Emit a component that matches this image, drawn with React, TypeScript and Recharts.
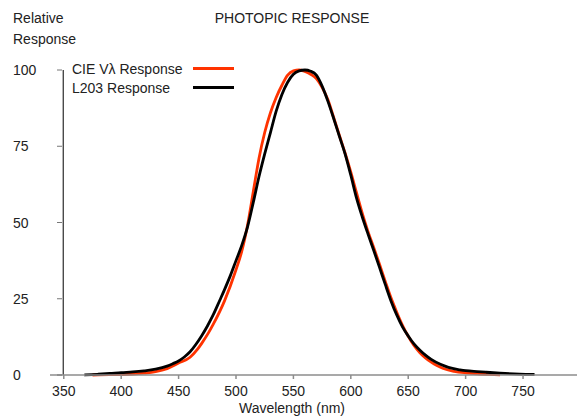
import { Legend, Line, LineChart, ReferenceLine, XAxis, YAxis } from "recharts";

// CIE V-lambda curve
const cieWavelengths = [
  375, 380, 390, 400, 410, 420, 430, 440, 450, 460, 466, 470, 476, 480, 490,
  500, 505, 510, 515, 520, 525, 530, 535, 540, 545, 550, 555, 560, 565, 570,
  575, 580, 585, 590, 595, 600, 605, 610, 615, 620, 625, 630, 635, 640, 645,
  650, 655, 660, 665, 670, 675, 680, 690, 700, 710, 720, 730,
];
const cieValues = [
  0, 0.05, 0.1, 0.15, 0.3, 0.6, 1.1, 2.1, 3.9, 5.8, 8.2, 10.3, 13.8, 16.5, 24.3,
  34.5, 40.5, 49, 60, 71, 79.5, 86, 91, 95, 98.3, 99.7, 100, 99.5, 98.6, 97.2,
  94.3, 90.3, 84.5, 78.6, 72.8, 66.5, 59.7, 53, 47, 41.7, 36.3, 30.7, 25.3,
  20.6, 16.3, 12.7, 9.7, 7.4, 5.6, 4.2, 3.1, 2.2, 1.2, 0.7, 0.4, 0.2, 0.05,
];

// L203 measured response
const l203Wavelengths = [
  368, 375, 380, 390, 400, 410, 420, 430, 440, 445, 450, 455, 460, 465, 470,
  475, 480, 486, 490, 495, 500, 505, 510, 515, 520, 525, 530, 535, 540, 545,
  550, 555, 560, 565, 570, 575, 580, 585, 590, 595, 600, 605, 610, 615, 620,
  625, 630, 635, 640, 645, 650, 655, 660, 665, 670, 678, 685, 695, 700, 710,
  718, 730, 747, 760,
];
const l203Values = [
  0, 0.15, 0.25, 0.5, 0.8, 1.0, 1.35, 1.9, 2.9, 3.7, 4.6, 5.9, 7.6, 10.0, 12.8,
  16.0, 19.6, 24.6, 28, 32.5, 37.5, 42.5, 48.5, 56.5, 65, 72.5, 79.5, 86.5, 92,
  96, 98.6, 99.7, 100, 99.6, 98.3, 94.7, 89.8, 84.2, 78.3, 72.5, 65.5, 58, 51.8,
  46.2, 40.8, 35.3, 29.7, 24.3, 19.7, 15.8, 12.8, 10.2, 8.2, 6.5, 5.1, 3.5, 2.5,
  1.7, 1.4, 1.1, 0.9, 0.6, 0.3, 0.2,
];

const xTicks = [350, 400, 450, 500, 550, 600, 650, 700, 750];
const yTicks = [0, 25, 50, 75, 100];

const cieData = cieWavelengths.map((nm, i) => ({ nm, v: cieValues[i] }));
const l203Data = l203Wavelengths.map((nm, i) => ({ nm, v: l203Values[i] }));

const font = "'Liberation Sans', Arial, sans-serif";
const textColor = "#222";

const YTick = (props: any) => {
  const { y, payload } = props;
  return (
    <g>
      <line x1={57} x2={62} y1={y} y2={y} stroke="#777" />
      <text x={13} y={y} dy={5} textAnchor="start" fontSize={14} fill={textColor}>
        {payload.value}
      </text>
    </g>
  );
};

const renderLegend = (props: any) => {
  const { payload } = props;
  return (
    <div style={{ fontFamily: font, fontSize: 14, color: textColor }}>
      {payload.map((entry: any) => (
        <div
          key={entry.value}
          style={{ display: "flex", alignItems: "center", height: 19 }}
        >
          <span style={{ width: 121 }}>{entry.value}</span>
          <span
            style={{
              display: "inline-block",
              width: 41,
              height: 2.5,
              background: entry.color,
            }}
          />
        </div>
      ))}
    </div>
  );
};

const App = () => {
  return (
    <div
      style={{
        position: "absolute",
        left: 0,
        top: 0,
        width: 577,
        height: 417,
        fontFamily: font,
        color: textColor,
        background: "#fff",
      }}
    >
      <div style={{ position: "absolute", left: 13, top: 8, fontSize: 14, lineHeight: "21px" }}>
        Relative
        <br />
        Response
      </div>
      <div
        style={{
          position: "absolute",
          left: 192,
          width: 200,
          top: 10,
          textAlign: "center",
          fontSize: 14,
        }}
      >
        PHOTOPIC RESPONSE
      </div>
      <div
        style={{
          position: "absolute",
          left: 192,
          width: 200,
          top: 400,
          textAlign: "center",
          fontSize: 14,
        }}
      >
        Wavelength (nm)
      </div>
      <LineChart
        width={577}
        height={417}
        margin={{ top: 70, right: 0, bottom: 12, left: 0 }}
        style={{ fontFamily: font }}
      >
        <XAxis
          dataKey="nm"
          type="number"
          domain={[338, 797]}
          ticks={xTicks}
          height={30}
          tickSize={4}
          tickMargin={7}
          stroke="#8c8c8c"
          strokeWidth={1.5}
          tick={{ fill: textColor, fontSize: 14 }}
          allowDuplicatedCategory={false}
        />
        <YAxis
          type="number"
          domain={[0, 100]}
          ticks={yTicks}
          width={50}
          axisLine={false}
          tickLine={false}
          tick={<YTick />}
        />
        <ReferenceLine x={349.5} stroke="#000" strokeWidth={1} />
        <Legend
          layout="vertical"
          align="center"
          verticalAlign="middle"
          wrapperStyle={{ top: 59, left: 72, width: 180 }}
          content={renderLegend}
        />
        <Line
          data={cieData}
          dataKey="v"
          name="CIE Vλ Response"
          type="monotone"
          stroke="#ff3300"
          strokeWidth={2.8}
          dot={false}
          isAnimationActive={false}
        />
        <Line
          data={l203Data}
          dataKey="v"
          name="L203 Response"
          type="monotone"
          stroke="#000"
          strokeWidth={2.8}
          dot={false}
          isAnimationActive={false}
        />
      </LineChart>
    </div>
  );
};

export default App;
